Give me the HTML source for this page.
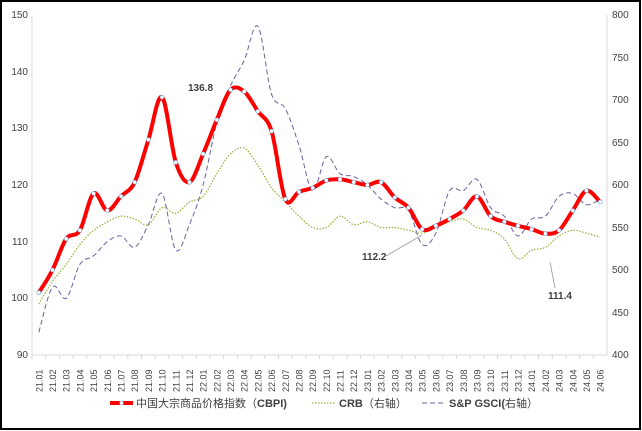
<!DOCTYPE html>
<html><head><meta charset="utf-8"><style>
body{margin:0;background:#fff;}
svg{display:block;font-family:"Liberation Sans","Noto Sans CJK SC",sans-serif;}
</style></head><body>
<svg id="c" width="642" height="431" xmlns="http://www.w3.org/2000/svg">
<rect x="1" y="1" width="639" height="428" fill="#fff" stroke="#000" stroke-width="2"/>
<line x1="32" y1="15" x2="32" y2="355" stroke="#d9d9d9"/>
<line x1="607" y1="15" x2="607" y2="355" stroke="#d9d9d9"/>
<line x1="32" y1="355" x2="607" y2="355" stroke="#d9d9d9"/>
<g font-size="10" fill="#404040" text-anchor="end">
<text x="28" y="358">90</text><text x="28" y="301">100</text><text x="28" y="245">110</text><text x="28" y="188">120</text><text x="28" y="131">130</text><text x="28" y="75">140</text><text x="28" y="18">150</text>
</g>
<g font-size="10" fill="#404040" text-anchor="start">
<text x="612" y="358">400</text><text x="612" y="316">450</text><text x="612" y="273">500</text><text x="612" y="231">550</text><text x="612" y="188">600</text><text x="612" y="146">650</text><text x="612" y="103">700</text><text x="612" y="61">750</text><text x="612" y="18">800</text>
</g>
<g id="xl" font-size="9" fill="#404040"></g>
<g id="ticks" stroke="#d9d9d9"></g>
<path id="gs" fill="none" stroke="#6e5fa0" stroke-width="1" stroke-dasharray="5,3"/>
<path id="crb" fill="none" stroke="#9aae3a" stroke-width="1.2" stroke-dasharray="1.5,1.5"/>
<path id="cb" fill="none" stroke="#f00" stroke-width="4" stroke-linejoin="round"/>
<g id="mk"></g>
<g font-size="10" font-weight="bold" fill="#404040">
<text x="188" y="91">136.8</text>
<text x="362" y="260">112.2</text>
<text x="548" y="299">111.4</text>
</g>
<line x1="386" y1="256" x2="422" y2="235" stroke="#999" stroke-width="0.8"/>
<line x1="555" y1="288" x2="550" y2="262" stroke="#999" stroke-width="0.8"/>
<g font-size="11" fill="#404040">
<line x1="110" y1="403" x2="133" y2="403" stroke="#f00" stroke-width="4"/>
<circle cx="121.5" cy="403" r="2" fill="#fff" stroke="#5b9bd5" stroke-width="0.6"/>
<text x="136" y="407">中国大宗商品价格指数（<tspan font-weight="bold">CBPI)</tspan></text>
<line x1="312" y1="403" x2="335" y2="403" stroke="#9aae3a" stroke-width="1.2" stroke-dasharray="1.5,1.5"/>
<text x="339" y="407"><tspan font-weight="bold">CRB</tspan>（右轴）</text>
<line x1="422" y1="403" x2="445" y2="403" stroke="#6e5fa0" stroke-dasharray="5,3"/>
<text x="449" y="407"><tspan font-weight="bold">S&amp;P GSCI(</tspan>右轴）</text>
</g>
</svg>
<script>
var L=["21.01","21.02","21.03","21.04","21.05","21.06","21.07","21.08","21.09","21.10","21.11","21.12","22.01","22.02","22.03","22.04","22.05","22.06","22.07","22.08","22.09","22.10","22.11","22.12","23.01","23.02","23.03","23.04","23.05","23.06","23.07","23.08","23.09","23.10","23.11","23.12","24.01","24.02","24.03","24.04","24.05","24.06"];
var cb=[101,105,110.5,112,118.5,115.5,118,120.5,128,135.5,124,120.5,125.5,131.5,136.8,136.5,133,129.5,117.5,118.8,119.5,120.8,121,120.5,120,120.5,117.8,116,112.2,112.8,114,115.5,118,114.5,113.5,112.8,112.2,111.4,112,115.5,119,117];
var crb=[99,103,106,109.5,112,113.5,114.5,114,113,116,115,117,118,122,125.5,126.5,123.5,119.5,117,114.5,112.5,112.5,114.5,113,113.5,112.5,112.5,112,111.5,112.5,113.5,114,112.5,112,110.5,107,108.5,109,111,112,111.5,110.8];
var gs=[94,102,100,106,107.5,110,111,109,113,118.5,108.5,113,120,131,137.5,142,148,136,133.5,127,119,125,122,121.5,120,117.5,116,115.5,109.5,111.5,119,119,121,116,114.5,111,114,114.5,118,118.5,116.5,117.5];
var W=575/42;function X(i){return 32+W*(i+.5)}function Y(v){return 355-(v-90)*340/60}
function sm(a){var p=a.map(function(v,i){return[X(i),Y(v)]});var d="M"+p[0][0].toFixed(1)+" "+p[0][1].toFixed(1);
for(var i=0;i<p.length-1;i++){var p0=p[i?i-1:0],p1=p[i],p2=p[i+1],p3=p[i+2<p.length?i+2:i+1],t=6;
d+=" C"+(p1[0]+(p2[0]-p0[0])/t).toFixed(1)+" "+(p1[1]+(p2[1]-p0[1])/t).toFixed(1)+" "+(p2[0]-(p3[0]-p1[0])/t).toFixed(1)+" "+(p2[1]-(p3[1]-p1[1])/t).toFixed(1)+" "+p2[0].toFixed(1)+" "+p2[1].toFixed(1);}return d}
document.getElementById("cb").setAttribute("d",sm(cb));
document.getElementById("crb").setAttribute("d",sm(crb));
document.getElementById("gs").setAttribute("d",sm(gs));
var ns="http://www.w3.org/2000/svg",s="";
var mk="",tk="",xl="";
for(var i=0;i<42;i++){mk+='<circle cx="'+X(i)+'" cy="'+Y(cb[i])+'" r="2" fill="#fff" stroke="#5b9bd5" stroke-width="0.6"/>';
tk+='<line x1="'+(32+W*i)+'" y1="355" x2="'+(32+W*i)+'" y2="359"/>';
xl+='<text transform="translate('+(X(i)+3.5)+',392) rotate(-90)">'+L[i]+'</text>';}
document.getElementById("mk").innerHTML=mk;document.getElementById("ticks").innerHTML=tk;document.getElementById("xl").innerHTML=xl;
</script>
</body></html>
